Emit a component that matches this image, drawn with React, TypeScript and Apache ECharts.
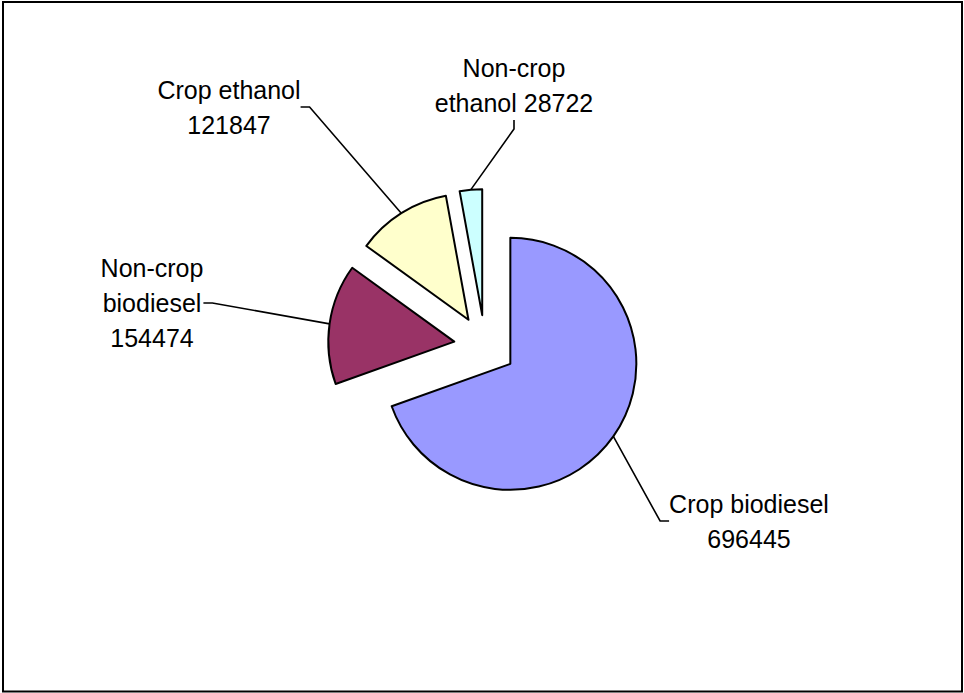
import React, { useEffect, useRef } from "react";
import * as echarts from "echarts";

// Fuel output by source
const categories = ["Crop biodiesel", "Non-crop biodiesel", "Crop ethanol", "Non-crop ethanol"];
const values = [696445, 154474, 121847, 28722];
// Label text: wrapped name, then the value
const labelTemplates = ["Crop biodiesel\n{c}", "Non-crop\nbiodiesel\n{c}", "Crop ethanol\n{c}", "Non-crop\nethanol {c}"];
const sliceColors = ["#9999FF", "#993366", "#FFFFCC", "#CCFFFF"];

// Where each label block is centred
const labelCentres = [
  [749, 521],
  [152, 303],
  [229, 107],
  [514, 85],
];

const FONT = "'Liberation Sans', Arial, sans-serif";
const PIE_CENTRE = [485, 346];
const PIE_RADIUS = 126;
const EXPLODE = 31;

export default function App() {
  const ref = useRef<HTMLDivElement>(null);

  useEffect(() => {
    if (!ref.current) return;
    const chart = echarts.init(ref.current, undefined, { renderer: "svg" });

    const total = values.reduce((a, b) => a + b, 0);

    // One pie per slice, each pushed out along its own mid-angle;
    // the other slices in that pie are left invisible.
    let cumulative = 0;
    const series = categories.map((_, i) => {
      const mid = ((cumulative + values[i] / 2) / total) * Math.PI * 2;
      cumulative += values[i];
      const cx = PIE_CENTRE[0] + EXPLODE * Math.sin(mid);
      const cy = PIE_CENTRE[1] - EXPLODE * Math.cos(mid);
      return {
        type: "pie",
        center: [cx, cy],
        radius: PIE_RADIUS,
        startAngle: 90,
        clockwise: true,
        selectedMode: false,
        emphasis: { disabled: true },
        label: {
          show: true,
          position: "outside",
          color: "#000",
          fontFamily: FONT,
          fontSize: 25,
          lineHeight: 35,
          align: "center",
        },
        labelLine: {
          show: true,
          length: 20,
          length2: 9,
          lineStyle: { color: "#000", width: 1.6 },
        },
        labelLayout: (params: any) => {
          const c = labelCentres[params.dataIndex];
          return { x: c[0], y: c[1], align: "center", verticalAlign: "middle" };
        },
        data: categories.map((name, j) => {
          const own = j === i;
          return {
            name,
            value: values[j],
            itemStyle: own
              ? { color: sliceColors[j], borderColor: "#000", borderWidth: 2 }
              : { color: "rgba(0,0,0,0)", borderWidth: 0 },
            label: { show: own, formatter: labelTemplates[j] },
            labelLine: { show: own },
          };
        }),
      };
    });

    chart.setOption({
      animation: false,
      backgroundColor: "#ffffff",
      graphic: [
        {
          type: "rect",
          shape: { x: 3, y: 2, width: 959, height: 689.5 },
          style: { fill: "none", stroke: "#000", lineWidth: 2 },
          silent: true,
        },
      ],
      series,
    });

    return () => chart.dispose();
  }, []);

  return (
    <div
      ref={ref}
      style={{ position: "fixed", left: 0, top: 0, width: 964, height: 693, background: "#fff" }}
    />
  );
}
